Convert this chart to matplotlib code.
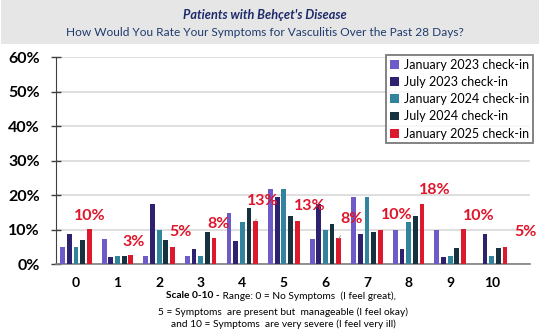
import numpy as np
import matplotlib
matplotlib.use('Agg')
import matplotlib.pyplot as plt
from matplotlib.patches import Rectangle

# Data (percent of patients)
scores = ['0', '1', '2', '3', '4', '5', '6', '7', '8', '9', '10']
series_names = ['January 2023 check-in', 'July 2023 check-in', 'January 2024 check-in',
                'July 2024 check-in', 'January 2025 check-in']
jan_2023 = [5.0, 7.3, 2.4, 2.4, 14.8, 21.9, 7.3, 19.6, 9.9, 9.9, 0.0]
jul_2023 = [8.7, 2.1, 17.6, 4.4, 6.7, 19.6, 17.6, 8.7, 4.4, 2.1, 8.7]
jan_2024 = [5.0, 2.4, 9.9, 2.4, 12.2, 21.9, 9.9, 19.6, 12.2, 2.4, 2.4]
jul_2024 = [7.1, 2.4, 7.1, 9.4, 16.2, 14.1, 11.7, 9.4, 14.1, 4.8, 4.8]
jan_2025 = [10.1, 2.6, 5.0, 7.5, 12.6, 12.6, 7.5, 10.0, 17.6, 10.1, 5.0]
jan_2025_labels = ['10%', '3%', '5%', '8%', '13%', '13%', '8%', '10%', '18%', '10%', '5%']

colors = ['#6E5BC8', '#2E2170', '#31849B', '#17313F', '#DC1A2E']
# label offsets from the top of the Jan 2025 bar, in points
label_offsets = [(0.5, 10), (2, 9.5), (5.5, 11), (3.5, 10.5), (5.5, 14), (9, 10.5),
                 (9.5, 14), (12, 10.5), (9.5, 9.5), (11, 10), (15, 10.5)]
leader = [False, False, False, False, True, False, True, False, False, False, False]

plt.rcParams['font.family'] = ['Lato', 'DejaVu Sans']

fig = plt.figure(figsize=(5.4, 3.31), dpi=100)
ax = fig.add_axes([56 / 540, 1 - 264.3 / 331, (530 - 56) / 540, (264.3 - 57.3) / 331])

# grey header band
fig.patches.append(Rectangle((0.002, 1 - 44 / 331), 0.996, 44 / 331, transform=fig.transFigure,
                             facecolor='#E6E6E6', edgecolor='none', zorder=0))
fig.text(265 / 540, 1 - 15 / 331, "Patients with Behçet's Disease", ha='center', va='center',
         fontsize=9.2, fontweight='bold', style='italic', color='#1F2A6B')
fig.text(265 / 540, 1 - 32 / 331, 'How Would You Rate Your Symptoms for Vasculitis Over the Past 28 Days?',
         ha='center', va='center', fontsize=8.6, color='#1F3A6E')

x = np.arange(len(scores))
width = 0.115
pitch = 0.16
all_series = [jan_2023, jul_2023, jan_2024, jul_2024, jan_2025]
for i, (vals, name, c) in enumerate(zip(all_series, series_names, colors)):
    ax.bar(x + (i - 2) * pitch, vals, width, color=c, label=name, zorder=3)

# data labels for the latest check-in
for i, (v, lab) in enumerate(zip(jan_2025, jan_2025_labels)):
    dx, dy = label_offsets[i]
    arrow = dict(arrowstyle='-', color='#A6A6A6', lw=0.7, shrinkA=6, shrinkB=3) if leader[i] else None
    ax.annotate(lab, xy=(x[i] + 2 * pitch, v), xytext=(dx, dy), textcoords='offset points',
                ha='center', va='center', fontsize=11.5, fontweight='bold', color='#E0142A',
                arrowprops=arrow, zorder=5)

ax.set_xlim(-0.48, 10.92)
ax.set_ylim(0, 60)
ax.set_yticks(range(0, 61, 10))
ax.set_yticklabels([f'{t}%' for t in range(0, 61, 10)], fontsize=11.5, fontweight='bold')
ax.set_xticks(x)
ax.set_xticklabels(scores, fontsize=10, fontweight='bold')
ax.tick_params(axis='x', length=0, pad=9)
ax.tick_params(axis='y', direction='inout', length=7.5, width=1, color='#404040', pad=8)
ax.grid(axis='y', color='#D9D9D9', linewidth=1.2, zorder=0)
ax.set_axisbelow(True)
for s in ['top', 'right']:
    ax.spines[s].set_visible(False)
ax.spines['left'].set_color('#404040')
ax.spines['bottom'].set_color('#808080')
ax.spines['bottom'].set_linewidth(1.2)

leg = ax.legend(loc='upper right', bbox_to_anchor=(1.006, 1.012), fontsize=9, frameon=True,
                fancybox=False, handlelength=0.7, handleheight=0.7, handletextpad=0.4,
                labelspacing=0.42, borderpad=0.3, borderaxespad=0)
leg.get_frame().set_edgecolor('#595959')
leg.get_frame().set_linewidth(1.3)

# caption under the axis
cap = fig.text(166 / 540, 1 - 296 / 331, 'Scale 0-10 -', ha='left', va='center',
               fontsize=7.3, fontweight='bold')
fig.texts.append(matplotlib.text.Annotation(' Range: 0 = No Symptoms  (I feel great),', xy=(1, 0.5),
                                            xycoords=cap, va='center', ha='left', fontsize=7.3))
fig.texts[-1].set_figure(fig)
fig.text(283 / 540, 1 - 312 / 331, '5 = Symptoms  are present but  manageable (I feel okay)',
         ha='center', va='center', fontsize=7.3)
fig.text(283 / 540, 1 - 324 / 331, 'and 10 = Symptoms  are very severe (I feel very ill)',
         ha='center', va='center', fontsize=7.3)

fig.savefig('out.png', dpi=100)
